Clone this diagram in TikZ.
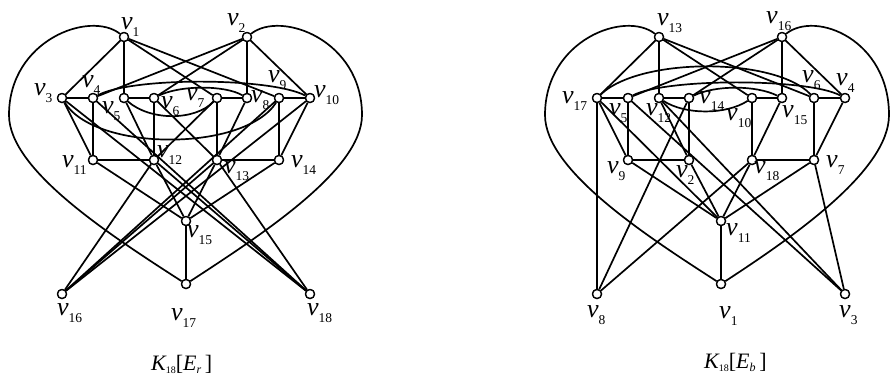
\documentclass[tikz,border=0pt]{standalone}
\usepackage{fontspec}
\setmainfont{Liberation Serif}
\newcommand{\vlab}[1]{{\fontsize{26}{26}\selectfont\itshape v}\raisebox{-7pt}{\fontsize{13.5}{13.5}\selectfont #1}}
\newcommand{\capK}[1]{{\fontsize{22}{22}\selectfont\itshape K}\raisebox{-3pt}{\fontsize{10}{10}\selectfont 18}{\fontsize{22}{22}\selectfont[\textit{E}}\raisebox{-3pt}{\fontsize{12}{12}\selectfont\itshape #1}{\fontsize{22}{22}\selectfont\,]}}
\begin{document}
\begin{tikzpicture}[x=1pt,y=-1pt,
  vtx/.style={circle,draw,fill=white,minimum size=9pt,inner sep=0pt,line width=1.3pt},
  ed/.style={line width=1.7pt},
  lab/.style={anchor=base west,inner sep=0pt}]
\useasboundingbox (0,0) rectangle (891,376);
% ---------------- left graph nodes
\foreach \n/\x/\y in {1/124/37,2/247/37,3/62/98,4/93/98,5/124/98,6/154/98,7/217/98,8/247/98,9/279/98,10/310/98,11/93/160,12/154/160,13/217/160,14/279/160,15/186/221,16/62/294,17/186/284,18/310/294}
  \node[vtx] (L\n) at (\x,\y) {};
% ---------------- right graph nodes
\foreach \n/\x/\y in {13/659/37,16/782/37,17/597/98,5/628/98,12/659/98,14/689/98,10/752/98,15/782/98,6/814/98,4/845/98,9/628/160,2/689/160,18/752/160,7/814/160,11/721/221,8/597/294,1/721/284,3/845/294}
  \node[vtx] (R\n) at (\x,\y) {};
% left straight edges
\foreach \a/\b in {1/3,1/5,1/7,1/9,2/4,2/6,2/8,2/10,3/4,5/6,7/8,9/10,3/11,10/14,4/11,6/12,7/13,9/14,11/12,13/14,5/12,12/15,8/13,13/15,11/15,14/15,15/17,3/18,10/16,12/16,13/18,13/16,12/18,9/16,4/18,6/13,7/12}
  \draw[ed] (L\a) -- (L\b);
% left arcs
\draw[ed] (L3) .. controls (95,152) and (245,152) .. (L9);
\draw[ed] (L4) .. controls (130,77) and (270,77) .. (L10);
\draw[ed] (L5) .. controls (150,121) and (195,121) .. (L7);
\draw[ed] (L6) .. controls (180,85) and (225,85) .. (L8);
% left heart
\coordinate (hl) at (9,115);
\coordinate (hr) at (362,115);
\draw[ed] (L1) .. controls (90,10) and (9,40) .. (hl) .. controls (9,170) and (110,235) .. (L17);
\draw[ed] (L2) .. controls (281,10) and (362,40) .. (hr) .. controls (362,170) and (261,235) .. (L17);
% right straight edges
\foreach \a/\b in {13/17,13/12,13/10,13/6,16/5,16/14,16/15,16/4,17/5,12/14,10/15,6/4,5/9,14/2,10/18,6/7,17/8,11/1,9/2,18/7,17/9,17/11,4/7,12/2,2/11,15/18,18/11,9/11,7/11,7/3,8/14,8/18,3/5,3/12}
  \draw[ed] (R\a) -- (R\b);
% right arcs
\draw[ed] (R17) .. controls (640,57) and (775,57) .. (R6);
\draw[ed] (R5) .. controls (665,78) and (808,78) .. (R4);
\draw[ed] (R12) .. controls (685,115) and (726,115) .. (R10);
\draw[ed] (R14) .. controls (715,85) and (756,85) .. (R15);
% right heart
\coordinate (Hl) at (545,115);
\coordinate (Hr) at (889,115);
\draw[ed] (R13) .. controls (625,10) and (545,40) .. (Hl) .. controls (545,170) and (645,235) .. (R1);
\draw[ed] (R16) .. controls (816,10) and (889,40) .. (Hr) .. controls (889,170) and (796,235) .. (R1);
% redraw nodes on top
\foreach \n in {1,...,18} {\node[vtx] at (L\n) {}; \node[vtx] at (R\n) {};}
% ---------------- labels left
\foreach \n/\x/\y in {1/121/29,2/227/25,3/34/95,4/82/87,5/102/113,6/161/108,7/186/100,8/251/102,9/268/82,10/314/97,11/62/167,12/157/157,13/224/173,14/291/167,15/187/237,16/57/315,17/171/320,18/307/315}
  \node[lab] (tL\n) at (\x,\y) {\vlab{\n}};
% ---------------- labels right
\foreach \n/\x/\y in {13/657/25,16/766/23,17/562/103,5/609/115,12/646/115,14/699/103,10/726/120,15/782/117,6/802/82,4/836/85,9/607/173,2/676/177,18/754/173,7/826/167,11/726/235,8/587/317,1/719/318,3/839/317}
  \node[lab] (tR\n) at (\x,\y) {\vlab{\n}};
\node[lab] (capL) at (151,370) {\capK{r}};
\node[lab] (capR) at (704,368) {\capK{b}};
\end{tikzpicture}
\end{document}
